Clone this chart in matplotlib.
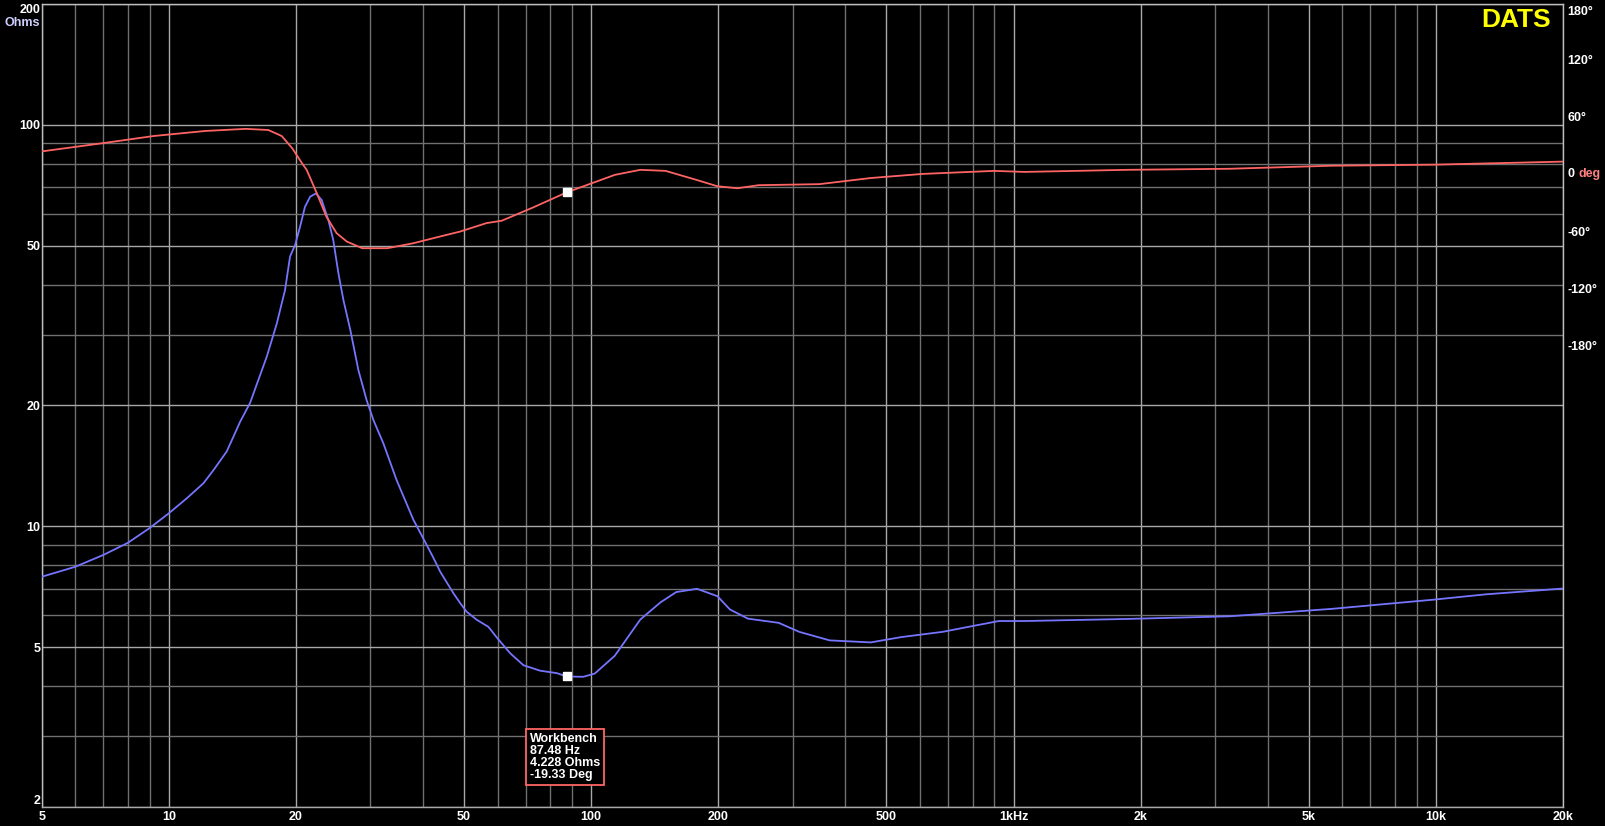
import numpy as np
import matplotlib.pyplot as plt
from matplotlib.ticker import FixedLocator, FixedFormatter, NullLocator

plt.rcParams['font.family'] = ['Liberation Sans', 'DejaVu Sans']

# impedance curve (Hz, Ohms)
imp_freq = [5, 6, 7, 8, 9, 10, 11.03, 12.07, 12.75, 13.7, 14.21, 14.74,
            15.57, 17.06, 18.01, 18.84, 19.36, 19.9, 20.45, 21.0, 21.6, 22.3,
            23.0, 23.86, 24.5, 25.2, 25.9, 26.9, 28.1, 29.4, 30.5, 32.2, 34.6,
            37.9, 40.4, 42.3, 43.9, 47.2, 48.9, 50.7, 53.6, 57.1, 60, 64.3, 69.1,
            75.7, 82.9, 87.48, 95.8, 102, 113.7, 130.7, 146, 159, 178, 199,
            213, 235, 278, 311, 367, 459, 543, 679, 803, 923, 1061, 1857, 3245,
            5670, 9910, 13100, 20000]
imp_ohms = [7.49, 7.93, 8.49, 9.1, 9.9, 10.78, 11.75, 12.8, 13.8, 15.35, 16.7,
            18.2, 20.3, 26.5, 32.0, 38.8, 47.0, 50.2, 55.8, 62.5, 66.2, 67.5,
            65.0, 57.9, 51.7, 42.7, 36.6, 30.8, 24.5, 20.6, 18.4, 16.1, 13.05,
            10.4, 9.16, 8.35, 7.71, 6.81, 6.45, 6.13, 5.85, 5.62, 5.26, 4.83, 4.51,
            4.37, 4.31, 4.228, 4.22, 4.3, 4.76, 5.86, 6.47, 6.86, 6.99, 6.7,
            6.21, 5.89, 5.75, 5.46, 5.2, 5.14, 5.3, 5.46, 5.65, 5.81, 5.81, 5.88,
            5.97, 6.23, 6.57, 6.77, 7.0]

# phase curve (Hz, degrees)
ph_freq = [5, 6.97, 9.2, 12.2, 15.2, 17.2, 18.5, 19.6, 20.7, 21.2, 22.4, 23.6,
           24.95, 26.4, 28.7, 32.9, 37.9, 43.8, 48.9, 56.5, 61.4, 72.6, 87.48,
           102, 113.7, 130.7, 150, 178, 199, 222, 249, 347, 459, 608, 900, 1061,
           1857, 3245, 5670, 9910, 20000]
ph_deg = [23.6, 32.2, 39.7, 45, 47.2, 46, 39.7, 26.8, 10.7, 4.2, -20.2, -44.7,
          -62, -70.9, -77.8, -77.8, -72.6, -65.6, -60.4, -51.5, -49, -35.4,
          -19.33, -8.6, -1, 4.3, 3.2, -6.4, -12.9, -15, -11.8, -10.7, -4.3, 0,
          3.2, 2.1, 4.3, 5.4, 8.6, 9.7, 12.9]

cursor_f = 87.48
cursor_z = 4.228
cursor_p = -19.33

x_ticks = [5, 10, 20, 50, 100, 200, 500, 1000, 2000, 5000, 10000, 20000]
x_labels = ['5', '10', '20', '50', '100', '200', '500', '1kHz', '2k', '5k', '10k', '20k']
y_ticks = [2, 5, 10, 20, 50, 100, 200]
ph_ticks = [120, 60, -60, -120, -180]

major_c = '#a8a8a8'
minor_c = '#707070'
blue = '#7575ff'
red = '#ff6464'

fig = plt.figure(figsize=(16.06, 8.26), dpi=100, facecolor='black')
ax = fig.add_axes([0.026, 0.023, 0.9472, 0.9722])
ax.set_facecolor('black')
ax.set_xscale('log')
ax.set_yscale('log')
ax.set_xlim(5, 20000)
ax.set_ylim(2, 200)

# grid lines
minor_x = [m * 10 ** d for d in range(0, 5) for m in range(1, 10)]
minor_x = [v for v in minor_x if 5 <= v <= 20000 and v not in x_ticks]
minor_y = [m * 10 ** d for d in range(0, 3) for m in range(1, 10)]
minor_y = [v for v in minor_y if 2 <= v <= 200 and v not in y_ticks]
for v in minor_x:
    ax.axvline(v, color=minor_c, lw=1, zorder=1)
for v in x_ticks:
    ax.axvline(v, color=major_c, lw=1, zorder=1)
for v in minor_y:
    ax.axhline(v, color=minor_c, lw=1, zorder=1)
for v in y_ticks:
    ax.axhline(v, color=major_c, lw=1, zorder=1)

ax.plot(imp_freq, imp_ohms, color=blue, lw=1.3, zorder=3)
ax.plot([cursor_f], [cursor_z], 's', color='white', ms=6, zorder=5)

# phase on right axis
ax2 = ax.twinx()
ax2.set_ylim(-663, 178)
ax2.plot(ph_freq, ph_deg, color=red, lw=1.3, zorder=3)
ax2.plot([cursor_f], [cursor_p], 's', color='white', ms=6, zorder=5)

# ticks (after twinx so the shared x axis keeps them)
ax.xaxis.set_major_locator(FixedLocator(x_ticks))
ax.xaxis.set_major_formatter(FixedFormatter(x_labels))
ax.xaxis.set_minor_locator(NullLocator())
ax.yaxis.set_major_locator(FixedLocator(y_ticks))
ax.yaxis.set_major_formatter(FixedFormatter([str(v) for v in y_ticks]))
ax.yaxis.set_minor_locator(NullLocator())
ax.tick_params(axis='both', length=0, colors='white', labelsize=9)
ax.tick_params(axis='x', pad=3)
ax.tick_params(axis='y', pad=1)
for t in ax.get_xticklabels() + ax.get_yticklabels():
    t.set_fontweight('bold')
ax.get_yticklabels()[0].set_va('bottom')
ax.get_yticklabels()[-1].set_va('top')
for s in ax.spines.values():
    s.set_color('#c0c0c0')
    s.set_linewidth(1)
ax.spines['bottom'].set_color(major_c)

ax.text(-0.001, 0.976, 'Ohms', transform=ax.transAxes, ha='right', va='center',
        color='#d0d0ff', fontsize=9, fontweight='bold')

ax2.set_yticks(ph_ticks)
ax2.set_yticklabels([f'{v}°' for v in ph_ticks])
ax2.yaxis.set_minor_locator(NullLocator())
ax2.tick_params(axis='y', length=0, colors='white', labelsize=9, pad=3)
for t in ax2.get_yticklabels():
    t.set_fontweight('bold')
for s in ax2.spines.values():
    s.set_visible(False)
ax2.text(1.003, 0.997, '180°', transform=ax2.transAxes, ha='left', va='top',
         color='white', fontsize=9, fontweight='bold')
t0 = ax2.text(1.003, 0, '0', transform=ax2.get_yaxis_transform(), ha='left', va='center',
              color='white', fontsize=9, fontweight='bold')
ax2.annotate('deg', xy=(1, 0.5), xycoords=t0, xytext=(3, 0), textcoords='offset points',
             ha='left', va='center', color='#ff8080', fontsize=9, fontweight='bold')

ax2.text(0.992, 0.995, 'DATS', transform=ax2.transAxes, ha='right', va='top',
         color='#ffff00', fontsize=19, fontweight='bold')

ax2.text(0.321, 0.092, 'Workbench\n87.48 Hz\n4.228 Ohms\n-19.33 Deg',
         transform=ax2.transAxes, ha='left', va='top', color='white',
         fontsize=9, fontweight='bold', linespacing=1.0,
         bbox=dict(boxstyle='square,pad=0.3', facecolor='black', edgecolor=red, lw=1.3),
         zorder=6)

fig.savefig('out.png', dpi=100, facecolor='black')
